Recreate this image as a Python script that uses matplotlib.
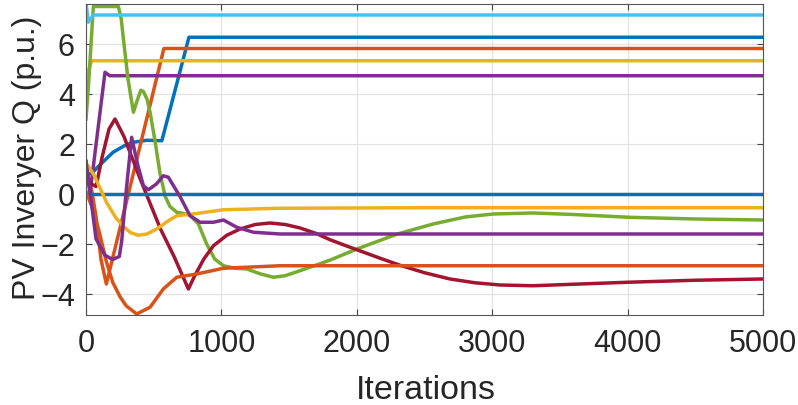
import matplotlib

matplotlib.use("Agg")
import matplotlib.pyplot as plt

plt.rcParams["font.family"] = ["Liberation Sans", "DejaVu Sans"]

# MATLAB default colour order
BLUE = "#0072BD"
ORANGE = "#D95319"
YELLOW = "#EDB120"
PURPLE = "#7E2F8E"
GREEN = "#77AC30"
LIGHTBLUE = "#4DBEEE"
DARKRED = "#A2142F"

# iteration / Q values, one pair of lists per inverter
blue1_x = [0, 40, 100, 200, 280, 350, 450, 560, 760, 5000]
blue1_y = [0.8, 0.82, 1.15, 1.67, 1.92, 2.07, 2.15, 2.13, 6.27, 6.27]

orange1_x = [0, 40, 74, 110, 150, 575, 5000]
orange1_y = [0.6, 0.2, -0.9, -2.6, -3.6, 5.82, 5.82]

yellow1_x = [0, 42, 5000]
yellow1_y = [4.65, 5.33, 5.33]

purple1_x = [0, 30, 140, 175, 5000]
purple1_y = [1.3, 0.05, 4.87, 4.73, 4.73]

green_x = [0, 20, 54, 239, 260, 276, 310, 350, 375, 405, 424, 450, 473, 510,
           547, 585, 620, 670, 720, 768, 830, 891, 950, 1015, 1100, 1187, 1290,
           1384, 1470, 1580, 1800, 2000, 2300, 2564, 2800, 3007, 3302, 3600,
           4004, 4500, 5000]
green_y = [3.0, 4.5, 7.5, 7.5, 7.0, 6.2, 4.6, 3.27, 3.7, 4.15, 4.1, 3.8, 3.27,
           2.1, 0.8, -0.1, -0.5, -0.73, -0.78, -0.85, -1.2, -2.0, -2.6, -2.87,
           -2.97, -3.0, -3.2, -3.33, -3.27, -3.07, -2.65, -2.2, -1.6, -1.2,
           -0.92, -0.8, -0.76, -0.82, -0.93, -1.0, -1.04]

lightblue_x = [0, 17, 54, 5000]
lightblue_y = [7.65, 6.87, 7.16, 7.16]

darkred_x = [0, 40, 74, 120, 170, 214, 280, 400, 550, 650, 756, 800, 870, 941,
             1040, 1138, 1250, 1359, 1470, 1581, 1700, 1802, 1900, 2000, 2172,
             2319, 2500, 2688, 2870, 3057, 3302, 3650, 4004, 4500, 5000]
darkred_y = [0.75, 0.4, 0.3, 1.5, 2.6, 3.0, 2.3, 0.6, -1.4, -2.5, -3.8, -3.3,
             -2.6, -2.07, -1.65, -1.4, -1.22, -1.16, -1.22, -1.36, -1.58, -1.83,
             -2.03, -2.23, -2.57, -2.85, -3.15, -3.4, -3.55, -3.64, -3.67, -3.6,
             -3.53, -3.45, -3.4]

blue2_x = [0, 5000]
blue2_y = [0.0, 0.0]

orange2_x = [0, 50, 98, 150, 197, 250, 296, 374, 473, 571, 670, 818, 1015, 1433,
             5000]
orange2_y = [0.1, -0.6, -1.53, -2.7, -3.53, -4.1, -4.47, -4.8, -4.53, -3.8,
             -3.33, -3.2, -2.97, -2.87, -2.87]

yellow2_x = [0, 60, 153, 220, 276, 330, 386, 450, 522, 600, 670, 818, 1015, 1433,
             2500, 5000]
yellow2_y = [1.25, 0.75, -0.35, -0.95, -1.3, -1.55, -1.65, -1.6, -1.4, -1.1,
             -0.87, -0.78, -0.63, -0.57, -0.55, -0.55]

purple2_x = [0, 74, 140, 197, 246, 263, 300, 337, 380, 424, 461, 520, 571, 608,
             694, 768, 842, 941, 1015, 1113, 1236, 1433, 5000]
purple2_y = [1.3, -1.8, -2.45, -2.62, -2.5, -1.9, 0.3, 2.27, 1.2, 0.33, 0.17,
             0.4, 0.73, 0.67, -0.1, -0.87, -1.13, -1.13, -1.04, -1.33, -1.53,
             -1.6, -1.6]

series = [
    (blue1_x, blue1_y, BLUE),
    (orange1_x, orange1_y, ORANGE),
    (yellow1_x, yellow1_y, YELLOW),
    (purple1_x, purple1_y, PURPLE),
    (green_x, green_y, GREEN),
    (lightblue_x, lightblue_y, LIGHTBLUE),
    (darkred_x, darkred_y, DARKRED),
    (blue2_x, blue2_y, BLUE),
    (orange2_x, orange2_y, ORANGE),
    (yellow2_x, yellow2_y, YELLOW),
    (purple2_x, purple2_y, PURPLE),
]

fig = plt.figure(figsize=(7.98, 4.06), dpi=100)
ax = fig.add_axes([0.1078, 0.2217, 0.8484, 0.766])

for xs, ys, c in series:
    ax.plot(xs, ys, color=c, linewidth=2.5, solid_joinstyle="round")

ax.set_xlim(0, 5000)
ax.set_ylim(-4.84, 7.6)
ax.set_xticks([0, 1000, 2000, 3000, 4000, 5000])
ax.set_yticks([-4, -2, 0, 2, 4, 6])
ax.grid(True, color="#e3e3e3", linewidth=0.9)
ax.set_axisbelow(True)
ax.tick_params(direction="in", top=True, right=True, length=4, width=0.8,
               color="#444444", labelsize=22, labelcolor="#262626")
ax.tick_params(axis="x", pad=9.5)
ax.tick_params(axis="y", pad=8)
for s in ax.spines.values():
    s.set_color("#555555")
    s.set_linewidth(0.8)

ax.set_xlabel("Iterations", fontsize=24.5, color="#262626")
ax.set_ylabel("PV Inveryer Q (p.u.)", fontsize=23, color="#262626")
ax.xaxis.set_label_coords(0.502, -0.19)
ax.yaxis.set_label_coords(-0.0653, 0.508)

fig.savefig("out.png", dpi=100)
